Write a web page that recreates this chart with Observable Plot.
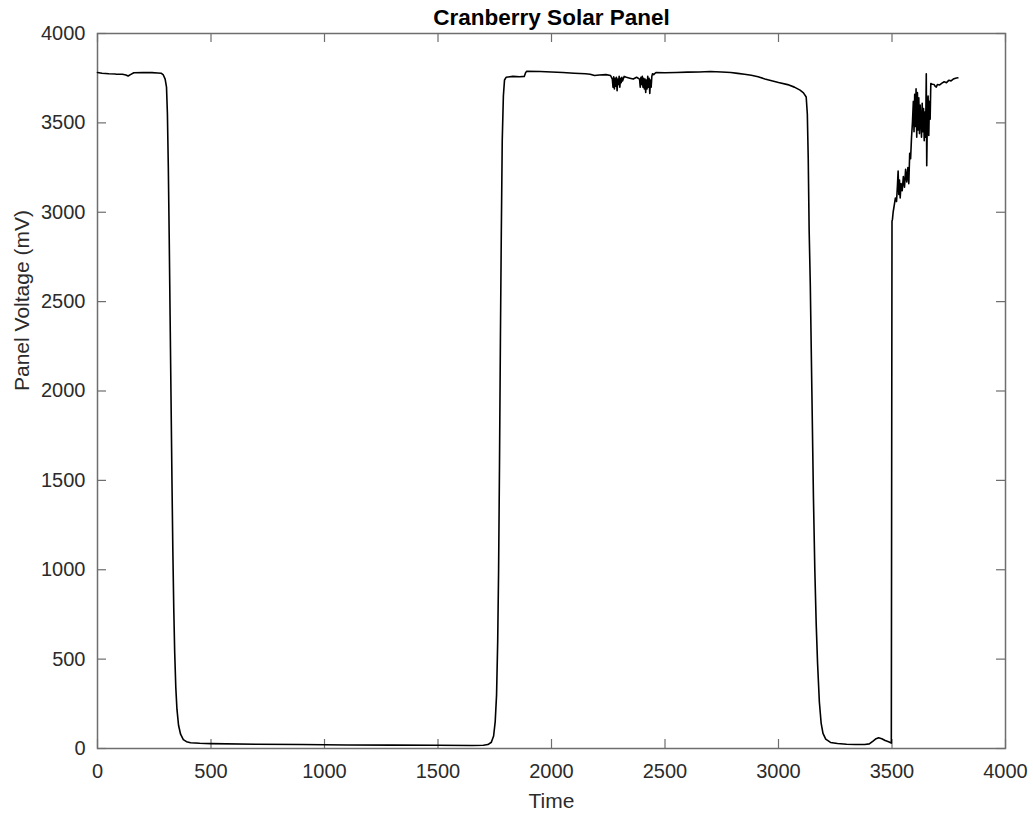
<!DOCTYPE html>
<html>
<head>
<meta charset="utf-8">
<script src="https://cdn.jsdelivr.net/npm/d3@7"></script>
<script src="https://cdn.jsdelivr.net/npm/@observablehq/plot@0.6"></script>
<style>
  html, body { margin: 0; padding: 0; background: #fff; }
  #chart { width: 1033px; height: 818px; }
</style>
</head>
<body>
<div id="chart"></div>
<script>
const titleText = "Cranberry Solar Panel";
const xLabel = "Time";
const yLabel = "Panel Voltage (mV)";
const xTicks = [0, 500, 1000, 1500, 2000, 2500, 3000, 3500, 4000];
const yTicks = [0, 500, 1000, 1500, 2000, 2500, 3000, 3500, 4000];

const times = [
  0, 20, 50, 80, 110, 125, 135, 145, 160, 200, 240, 265, 280, 290, 298, 304, 308, 312, 316, 320, 324, 328, 332, 336, 340, 345, 350, 357, 366, 378, 392, 410, 450,
  500, 700, 900, 1100, 1300, 1500, 1650, 1700, 1720, 1735, 1745, 1752, 1758, 1763, 1767, 1771, 1775, 1779, 1783, 1788, 1793, 1800,
  1830, 1860, 1880, 1885, 1890, 1950, 2000, 2050, 2100, 2150, 2170, 2190, 2210, 2240, 2260,
  2268, 2271, 2274, 2277, 2280, 2283, 2286, 2289, 2292, 2295, 2298, 2301, 2304, 2307, 2310, 2313, 2316, 2320, 2330, 2345, 2360, 2375, 2388,
  2391, 2394, 2397, 2400, 2403, 2406, 2409, 2412, 2415, 2418, 2421, 2424, 2427, 2430, 2433, 2436, 2439, 2442, 2445, 2450, 2460,
  2500, 2550, 2600, 2650, 2700, 2750, 2790, 2820, 2850, 2880, 2910, 2940, 2970, 3000, 3040, 3070, 3095, 3110, 3122,
  3127, 3131, 3135, 3140, 3147, 3154, 3160, 3166, 3172, 3180, 3188, 3196, 3208, 3229, 3260, 3300, 3340, 3380, 3400, 3415, 3430, 3441, 3455, 3470, 3485, 3497,
  3500, 3502, 3505, 3510, 3515, 3520, 3524, 3527, 3530, 3533, 3536, 3540, 3545, 3550, 3555, 3560, 3565, 3570, 3574, 3578, 3582, 3586, 3590, 3594, 3597,
  3600, 3603, 3606, 3609, 3612, 3615, 3618, 3621, 3624, 3627, 3630, 3633, 3636, 3639, 3642, 3645, 3648, 3651, 3653, 3656, 3659, 3662, 3665, 3668, 3671,
  3675, 3680, 3685, 3690, 3695, 3700, 3710, 3720, 3730, 3740, 3750, 3760, 3770, 3780, 3790
];
const volts = [
  3782, 3778, 3775, 3773, 3772, 3768, 3762, 3770, 3780, 3782, 3781, 3779, 3778, 3768, 3745, 3700, 3550, 3250, 2850, 2400, 1950, 1500, 1100, 780, 540, 340, 220, 130, 80, 50, 38, 32, 29,
  27, 24, 22, 20, 19, 18, 17, 18, 22, 35, 70, 150, 300, 600, 1000, 1600, 2300, 2900, 3400, 3650, 3740, 3755,
  3760, 3758, 3760, 3778, 3788, 3787, 3785, 3782, 3778, 3775, 3772, 3765, 3768, 3770, 3765,
  3745, 3700, 3758, 3690, 3750, 3705, 3755, 3680, 3745, 3715, 3760, 3700, 3750, 3725, 3755, 3735, 3745, 3760, 3755, 3750, 3745, 3755, 3745,
  3700, 3755, 3715, 3760, 3700, 3750, 3690, 3745, 3670, 3740, 3690, 3760, 3700, 3750, 3665, 3740, 3700, 3760, 3775, 3770, 3782,
  3780, 3782, 3784, 3785, 3787, 3785, 3782, 3777, 3772, 3766, 3758, 3746, 3736, 3726, 3714, 3700, 3683, 3668, 3645,
  3550, 3300, 2900, 2600, 2000, 1400, 1000, 700, 480, 260, 140, 85, 52, 34, 28, 24, 22, 22, 26, 40, 55, 60, 55, 45, 38, 30,
  2950, 2960, 3000, 3040, 3080, 3060, 3150, 3230, 3100, 3180, 3080, 3160, 3120, 3200, 3140, 3240, 3170, 3250, 3160, 3330, 3300, 3420, 3500, 3620, 3450,
  3660, 3480, 3690, 3420, 3670, 3460, 3640, 3440, 3600, 3520, 3420, 3610, 3450, 3580, 3400, 3560, 3420, 3775, 3260, 3560, 3650, 3430, 3620, 3520, 3720,
  3718, 3716, 3715, 3705, 3700, 3715, 3712, 3722, 3730, 3725, 3738, 3735, 3745, 3750, 3752
];

const data = times.map((t, i) => ({time: t, volt: volts[i]}));

const W = 1033, H = 818;
const mT = 33, mB = 70, mL = 97, mR = 28;
const innerW = W - mL - mR, innerH = H - mT - mB;
const tickLen = 9;
const axisColor = "#6e6e6e";
const textColor = "#2b2b2b";

const chart = Plot.plot({
  width: W,
  height: H,
  marginTop: mT,
  marginBottom: mB,
  marginLeft: mL,
  marginRight: mR,
  style: {fontFamily: "'Liberation Sans', Arial, Helvetica, sans-serif", background: "#fff", color: textColor},
  x: {domain: [0, 4000]},
  y: {domain: [0, 4000]},
  marks: [
    Plot.axisX({ticks: xTicks, tickSize: 0, tickPadding: 15, fontSize: 20, label: null, tickFormat: d => String(d), fill: textColor}),
    Plot.axisY({ticks: yTicks, tickSize: 0, tickPadding: 12, fontSize: 20, label: null, tickFormat: d => String(d), fill: textColor}),
    Plot.tickX(xTicks, {x: d => d, insetTop: innerH - tickLen, stroke: axisColor, strokeWidth: 1.2}),
    Plot.tickX(xTicks, {x: d => d, insetBottom: innerH - tickLen, stroke: axisColor, strokeWidth: 1.2}),
    Plot.tickY(yTicks, {y: d => d, insetRight: innerW - tickLen, stroke: axisColor, strokeWidth: 1.2}),
    Plot.tickY(yTicks, {y: d => d, insetLeft: innerW - tickLen, stroke: axisColor, strokeWidth: 1.2}),
    Plot.frame({stroke: axisColor, strokeWidth: 1.5}),
    Plot.line(data, {x: "time", y: "volt", stroke: "#000", strokeWidth: 1.6, strokeLinejoin: "round"}),
    Plot.text([titleText], {frameAnchor: "top", lineAnchor: "middle", dy: -16, fontSize: 22.5, fontWeight: "bold", fill: "#000"}),
    Plot.text([xLabel], {frameAnchor: "bottom", lineAnchor: "middle", dy: 53, fontSize: 21, fill: textColor}),
    Plot.text([yLabel], {frameAnchor: "left", lineAnchor: "middle", dx: -75, rotate: -90, fontSize: 21, fill: textColor})
  ]
});
document.getElementById("chart").appendChild(chart);
</script>
</body>
</html>
